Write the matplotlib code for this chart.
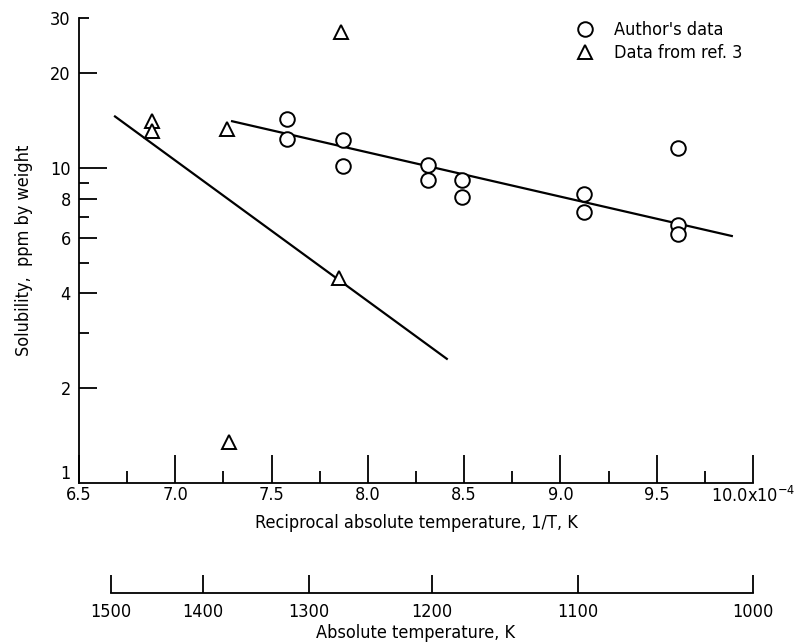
import matplotlib
matplotlib.use("Agg")
import matplotlib.pyplot as plt
from matplotlib.ticker import FixedLocator, NullFormatter, FixedFormatter

plt.rcParams['font.family'] = ['DejaVu Sans']
plt.rcParams['font.stretch'] = 'condensed'
plt.rcParams['mathtext.fontset'] = 'custom'
plt.rcParams['mathtext.rm'] = 'DejaVu Sans:stretch=condensed'

# Author's data (1/T x 1e4, solubility ppm)
author_x = [7.58, 7.58, 7.87, 7.87, 8.31, 8.31, 8.49, 8.49, 9.12, 9.12, 9.61, 9.61, 9.61]
author_y = [14.3, 12.4, 12.3, 10.15, 10.2, 9.2, 9.2, 8.1, 8.3, 7.25, 11.6, 6.6, 6.2]
# Data from ref. 3
ref_x = [6.88, 6.88, 7.27, 7.86, 7.85, 7.28]
ref_y = [14.1, 13.1, 13.3, 27.0, 4.48, 1.35]
# Fitted lines
author_fit_x = [7.295, 9.89]
author_fit_y = [14.1, 6.09]
ref_fit_x = [6.687, 8.41]
ref_fit_y = [14.6, 2.48]

x_major = [6.5, 7.0, 7.5, 8.0, 8.5, 9.0, 9.5, 10.0]
x_major_labels = ["6.5", "7.0", "7.5", "8.0", "8.5", "9.0", "9.5", "10.0x10$^{-4}$"]
x_minor = [6.75, 7.25, 7.75, 8.25, 8.75, 9.25, 9.75]
y_labeled = [1, 2, 4, 6, 8, 10, 20, 30]
y_minor = [3, 5, 7, 9]
temps = [1500, 1400, 1300, 1200, 1100, 1000]

FS = 13
W, H = 796, 643
fig = plt.figure(figsize=(W / 100, H / 100), dpi=100)
L, R, T, B = 79, 753, 18, 483
ax = fig.add_axes([L / W, 1 - B / H, (R - L) / W, (B - T) / H])
ax.set_xlim(6.5, 10.0)
ax.set_yscale('log')
ax.set_ylim(1, 30)

ax.plot(author_fit_x, author_fit_y, color='black', lw=1.6)
ax.plot(ref_fit_x, ref_fit_y, color='black', lw=1.6)
ax.plot(author_x, author_y, 'o', ms=10.5, mfc='white', mec='black', mew=1.4, ls='none',
        label="Author's data")
ax.plot(ref_x, ref_y, '^', ms=10, mfc='white', mec='black', mew=1.4, ls='none',
        label="Data from ref. 3")

for s in ['top', 'right']:
    ax.spines[s].set_visible(False)
for s in ['left', 'bottom']:
    ax.spines[s].set_linewidth(1.3)

ax.xaxis.set_major_locator(FixedLocator(x_major))
ax.xaxis.set_major_formatter(FixedFormatter(x_major_labels))
ax.xaxis.set_minor_locator(FixedLocator(x_minor))
ax.xaxis.set_minor_formatter(NullFormatter())
ax.tick_params(axis='x', which='major', direction='in', length=20, width=1.3, labelsize=FS, pad=2)
ax.tick_params(axis='x', which='minor', direction='in', length=9, width=1.3)

ax.yaxis.set_major_locator(FixedLocator(y_labeled))
ax.yaxis.set_major_formatter(FixedFormatter([str(v) for v in y_labeled]))
ax.yaxis.set_minor_locator(FixedLocator(y_minor))
ax.yaxis.set_minor_formatter(NullFormatter())
ax.tick_params(axis='y', which='major', direction='in', length=13, width=1.3, labelsize=FS, pad=6)
ax.tick_params(axis='y', which='minor', direction='in', length=7, width=1.3)
for tk, v in zip(ax.yaxis.get_major_ticks(), y_labeled):
    if v == 10:
        tk.tick1line.set_markersize(20)
    elif v == 30:
        tk.tick1line.set_markersize(7)
    elif v == 1:
        tk.tick1line.set_markersize(0)
        tk.label1.set_verticalalignment('bottom')

ax.set_xlabel("Reciprocal absolute temperature, 1/T, K", fontsize=FS, labelpad=6)
ax.set_ylabel("Solubility,  ppm by weight", fontsize=FS, labelpad=12)

ax.legend(loc='upper left', bbox_to_anchor=((576 - L) / (R - L), (B - 21) / (B - T)),
          frameon=False, fontsize=FS, handlelength=1, handletextpad=1.1,
          borderaxespad=0, borderpad=0, labelspacing=0.3)

# Secondary temperature axis
ax2 = fig.add_axes([L / W, 1 - 593 / H, (R - L) / W, 0.0001])
ax2.set_xlim(6.5, 10.0)
ax2.set_yticks([])
for s in ['top', 'right', 'left']:
    ax2.spines[s].set_visible(False)
ax2.spines['bottom'].set_linewidth(1.3)
tpos = [1e4 / t for t in temps]
ax2.spines['bottom'].set_bounds(tpos[0], tpos[-1])
ax2.set_xticks(tpos)
ax2.set_xticklabels([str(t) for t in temps])
ax2.tick_params(axis='x', direction='in', length=13, width=1.3, labelsize=FS, pad=7)
ax2.set_xlabel("Absolute temperature, K", fontsize=FS, labelpad=2)
ax2.patch.set_visible(False)

fig.savefig("out.png", dpi=100)
